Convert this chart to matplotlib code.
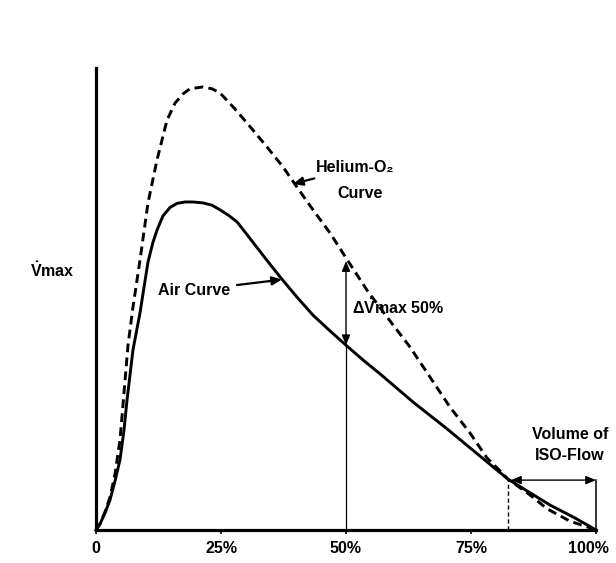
import matplotlib
matplotlib.use("Agg")
import matplotlib.pyplot as plt
from matplotlib.transforms import ScaledTranslation

plt.rcParams["mathtext.fontset"] = "custom"
plt.rcParams["mathtext.rm"] = "Liberation Sans"
plt.rcParams["mathtext.bf"] = "Liberation Sans:bold"

# flow-volume curves (x = % of vital capacity, y = flow, 0-100 of axis height)
x_air = [0, 0.8, 1.8, 2.8, 3.8, 4.8, 5.6, 6.2, 7.4, 8.8, 10.4, 11.4, 12.2, 13.4, 14.8, 16.2,
         17.8, 19.4, 21.4, 23.2, 24.8, 26.4, 28.2, 29.8, 31.8, 33.8, 36.8, 40.2, 43.4, 46.8,
         50.0, 53.4, 56.8, 63.4, 70.2, 76.8, 82.4, 90.8, 95.8, 100]
y_air = [0, 1.3, 3.7, 6.5, 10.6, 15.2, 21.6, 28.1, 39.0, 47.0, 58.0, 62.3, 64.9, 68.0, 69.8, 70.7,
         71.0, 71.0, 70.8, 70.3, 69.3, 68.2, 66.7, 64.5, 61.7, 58.9, 54.8, 50.4, 46.5, 43.1,
         40.0, 36.8, 33.8, 27.7, 21.9, 16.0, 11.0, 5.4, 2.6, 0]

x_he = [0, 0.8, 1.8, 2.8, 3.8, 4.8, 5.4, 6.4, 7.4, 8.8, 10.4, 12.2, 14.2, 15.8, 17.4, 18.8,
        21.4, 23.2, 24.8, 27.4, 30.2, 34.2, 37.4, 40.2, 43.4, 46.8, 50.0, 54.2, 58.2, 62.8,
        66.8, 70.8, 74.8, 78.2, 80.8, 82.4, 86.8, 90.2, 94.8, 98.2, 100]
y_he = [0, 1.3, 3.9, 7.1, 12.1, 19.5, 27.1, 40.0, 48.3, 58.4, 70.8, 80.1, 88.7, 92.4, 94.4, 95.5,
        95.9, 95.5, 94.6, 91.6, 88.1, 82.9, 78.6, 74.2, 69.3, 64.3, 58.9, 51.9, 46.1, 39.6,
        33.1, 26.6, 21.0, 15.6, 12.8, 11.0, 7.6, 4.6, 1.9, 0.7, 0]

tick_pos = [0, 25, 50, 75, 100]
tick_labels = ["0", "25%", "50%", "75%", "100%"]

mid_x = 50.0
mid_air = 40.0
mid_he = 58.2
iso_x = 82.4
iso_y = 10.8

fnt = dict(family=["Liberation Sans", "DejaVu Sans"], fontsize=11.5, fontweight="bold")
vdot = r"$\mathbf{\dot{V}}$"

fig = plt.figure(figsize=(6.16, 5.63), dpi=100)
ax = fig.add_axes([96 / 616, 33 / 563, 500 / 616, 462 / 563])
ax.set_xlim(0, 100)
ax.set_ylim(0, 100)

ax.plot(x_he, y_he, color="black", lw=2.1, linestyle=(0, (3, 1.8)), clip_on=False)
ax.plot(x_air, y_air, color="black", lw=2.1, clip_on=False)

# 50% line and delta arrow
ax.plot([mid_x, mid_x], [0, mid_air], color="black", lw=0.9)
ax.annotate("", xy=(mid_x, mid_he), xytext=(mid_x, mid_air),
            arrowprops=dict(arrowstyle="<|-|>,head_length=0.6,head_width=0.25",
                            color="black", lw=1.0, shrinkA=0, shrinkB=0))

# iso-flow markers
ax.plot([iso_x, iso_x], [0, iso_y], color="black", lw=1.0, linestyle=(0, (3, 2)))
ax.plot([100, 100], [0, iso_y], color="black", lw=1.1, clip_on=False)
ax.annotate("", xy=(100, iso_y), xytext=(iso_x + 0.6, iso_y),
            arrowprops=dict(arrowstyle="<|-|>,head_length=0.6,head_width=0.25",
                            color="black", lw=1.0, shrinkA=0, shrinkB=0))

# labels with pointer arrows
ax.annotate("Air Curve", xy=(37.2, 54.2), xytext=(12.4, 51.9), va="center", ha="left",
            arrowprops=dict(arrowstyle="-|>,head_length=0.5,head_width=0.22", color="black",
                            lw=1.6, shrinkA=3, shrinkB=0), **fnt)
ax.annotate("Helium-O\u2082", xy=(39.4, 74.9), xytext=(44.0, 78.4), va="center", ha="left",
            arrowprops=dict(arrowstyle="-|>,head_length=0.5,head_width=0.22", color="black",
                            lw=1.6, shrinkA=1, shrinkB=0), **fnt)
ax.text(52.8, 72.9, "Curve", ha="center", va="center", **fnt)
ax.text(51.2, 48.3, "\u0394" + vdot + "max 50%", ha="left", va="center", **fnt)
ax.text(94.8, 20.6, "Volume of", ha="center", va="center", clip_on=False, **fnt)
ax.text(94.8, 16.2, "ISO-Flow", ha="center", va="center", clip_on=False, **fnt)
ax.text(-8.8, 56.3, vdot + "max", ha="center", va="center", clip_on=False, **fnt)

for s in ["top", "right"]:
    ax.spines[s].set_visible(False)
ax.spines["left"].set_linewidth(2.3)
ax.spines["bottom"].set_linewidth(2.3)
ax.set_yticks([])
ax.set_xticks(tick_pos)
ax.set_xticklabels(tick_labels, **fnt)
ax.tick_params(axis="x", direction="out", length=3, width=1.2, pad=5)
last = ax.get_xticklabels()[-1]
last.set_transform(last.get_transform() + ScaledTranslation(-0.08, 0, fig.dpi_scale_trans))

fig.savefig("out.png", dpi=100)
